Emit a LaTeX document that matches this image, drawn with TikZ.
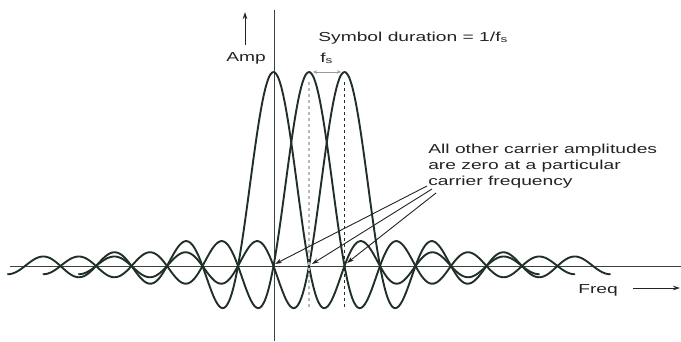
\documentclass[tikz,border=0pt]{standalone}
\usepackage{fontspec}
\setmainfont{Liberation Sans}
\usetikzlibrary{arrows.meta}
\definecolor{curvecol}{RGB}{32,48,38}
\definecolor{axiscol}{RGB}{55,70,60}
\definecolor{txtcol}{RGB}{35,35,35}
\begin{document}
\begin{tikzpicture}[x=1pt,y=-1pt,
  curve/.style={curvecol, line width=1.9pt, line join=round},
  axisline/.style={axiscol, line width=1pt},
  lbl/.style={inner sep=0pt, text=txtcol, font=\fontsize{13}{16}\selectfont, xscale=1.48, transform shape},
  ptr/.style={txtcol, line width=0.9pt, -{Stealth[length=7pt,width=4.5pt]}},
  guide/.style={line width=1.2pt, dash pattern=on 3pt off 3pt},
]
\useasboundingbox (0,0) rectangle (681,341);
% axes
\coordinate (hl) at (10,266);
\coordinate (hr) at (681,266);
\coordinate (vt) at (274,10);
\coordinate (vb) at (274,341);
\draw[axisline] (hl) -- (hr);
\draw[axisline] (vt) -- (vb);
% sinc curves
\foreach \c in {273.5,309,344.5}
  \draw[curve] plot[domain=-7.5:7.5,samples=300,smooth] ({\c+35.5*\x},{266-194*sin(180*\x)/(pi*\x)});
% dashed guides
\coordinate (g1t) at (309,82);
\coordinate (g1b) at (309,308);
\coordinate (g2t) at (344.5,82);
\coordinate (g2b) at (344.5,308);
\draw[guide, gray!55] (g1t) -- (g1b);
\draw[guide, curvecol] (g2t) -- (g2b);
% fs arrow
\coordinate (fa) at (313,72);
\coordinate (fb) at (341,72);
\draw[gray!80, line width=1pt, {Stealth[length=4pt,width=3.5pt]}-{Stealth[length=4pt,width=3.5pt]}] (fa) -- (fb);
\node[lbl, anchor=base west] (fs) at (320,62) {f\textsubscript{s}};
% amp
\coordinate (aa) at (245,45);
\coordinate (ab) at (245,12);
\draw[ptr, line width=1pt] (aa) -- (ab);
\node[lbl, anchor=base west] (amp) at (226,61) {Amp};
% symbol duration
\node[lbl, anchor=base west] (sym) at (318,41) {Symbol duration = 1/f\textsubscript{s}};
% note
\node[lbl, anchor=north west, align=left] (note) at (428,143.5) {All other carrier amplitudes\\are zero at a particular\\carrier frequency};
\coordinate (s1) at (427,186);
\coordinate (s2) at (432,189);
\coordinate (s3) at (436,193);
\coordinate (z1) at (275,264);
\coordinate (z2) at (312,264);
\coordinate (z3) at (347,263);
\draw[ptr] (s1) -- (z1);
\draw[ptr] (s2) -- (z2);
\draw[ptr] (s3) -- (z3);
% freq
\node[lbl, anchor=base west] (freq) at (578,293) {Freq};
\coordinate (fr1) at (633,288);
\coordinate (fr2) at (680,288);
\draw[ptr] (fr1) -- (fr2);
\end{tikzpicture}
\end{document}
